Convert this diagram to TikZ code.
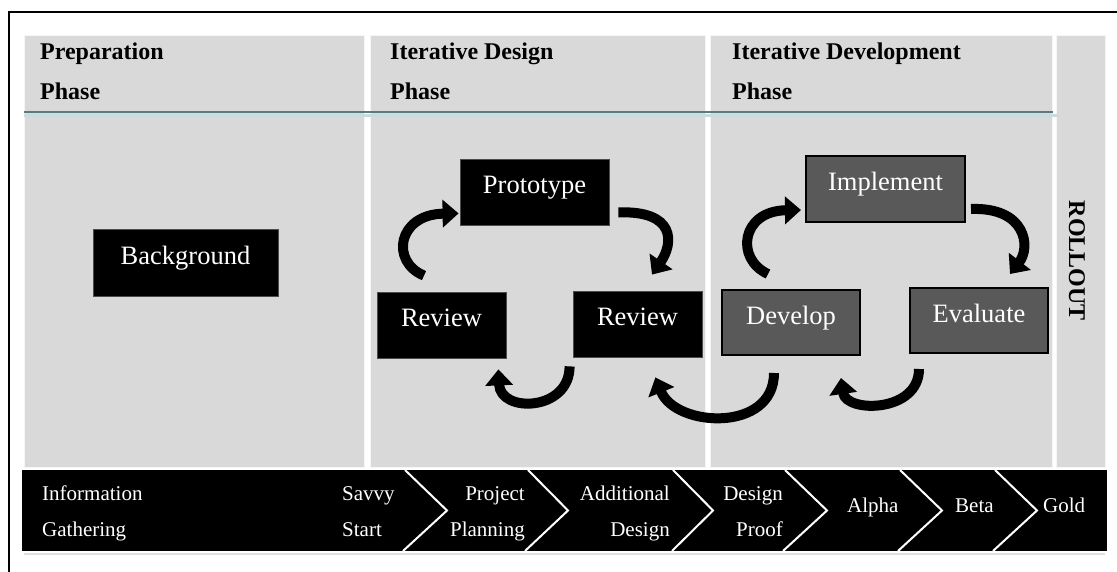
\documentclass[tikz,border=0pt]{standalone}
\usepackage{fontspec}
\setmainfont{Liberation Serif}
\usetikzlibrary{arrows.meta}
\definecolor{panelgray}{RGB}{217,217,217}
\definecolor{boxgray}{RGB}{89,89,89}
\definecolor{headline}{RGB}{96,120,125}
\definecolor{glow}{RGB}{200,220,224}
\tikzset{
  panel/.style={fill=panelgray, draw=white!96!black, line width=0.8pt},
  head/.style={font=\fontsize{24}{28}\selectfont\bfseries, inner sep=0pt},
  blackbox/.style={fill=black, draw=black!70, line width=0.8pt, text=white,
    font=\fontsize{26.5}{30}\selectfont, text height=0.65em, text depth=0.28em, inner sep=0pt},
  graybox/.style={fill=boxgray, draw=black, line width=2pt, text=white,
    font=\fontsize{26.5}{30}\selectfont, text height=0.65em, text depth=0.28em, inner sep=0pt},
  bartext/.style={font=\fontsize{21}{25}\selectfont, text=white, inner sep=0pt},
  curvearrow/.style={line width=10pt, -{Triangle[width=27pt,length=16pt]}},
  chev/.style={draw=white, line width=2pt},
}
\begin{document}
\begin{tikzpicture}[x=1pt,y=1pt]
\useasboundingbox (0,0) rectangle (1117,572);
% outer frame
\draw[line width=2pt] (9,0) -- (9,560) -- (1117,560);
% panels
\fill[panel] (24,105) rectangle (364,537);
\fill[panel] (370,105) rectangle (705,537);
\fill[panel] (710,105) rectangle (1052,537);
\fill[panel] (1056,105) rectangle (1105,537);
% header rule
\draw[glow, line width=3pt] (24,456.5) -- (1058,456.5);
\draw[headline, line width=2.5pt] (24,460) -- (1053,460);
% headers
\node[head, anchor=base west] (h1a) at (40,512) {Preparation};
\node[head, anchor=base west] (h1b) at (40,472) {Phase};
\node[head, anchor=base west] (h2a) at (390,512) {Iterative Design};
\node[head, anchor=base west] (h2b) at (390,472) {Phase};
\node[head, anchor=base west] (h3a) at (732,512) {Iterative Development};
\node[head, anchor=base west] (h3b) at (732,472) {Phase};
\node[head, rotate=-90] (roll) at (1077,311) {ROLLOUT};
% boxes
\node[blackbox, minimum width=185pt, minimum height=67pt] (bg) at (185.5,309.5) {Background};
\node[blackbox, minimum width=149pt, minimum height=66pt] (proto) at (534.5,380) {Prototype};
\node[blackbox, minimum width=129pt, minimum height=66pt] (revL) at (441.5,247) {Review};
\node[blackbox, minimum width=129pt, minimum height=66pt] (revR) at (637.5,248) {Review};
\node[graybox, minimum width=159pt, minimum height=66pt] (impl) at (885.5,383) {Implement};
\node[graybox, minimum width=138pt, minimum height=65pt] (dev) at (791,249.5) {Develop};
\node[graybox, minimum width=138pt, minimum height=65pt] (eval) at (979,251.5) {Evaluate};
% arrow end points
\coordinate (a1s) at ([shift={(-17.5,16)}]revL.north);
\coordinate (a1e) at ([shift={(-1,12)}]proto.south west);
\coordinate (a2s) at ([shift={(9,13)}]proto.south east);
\coordinate (a2e) at ([shift={(14.5,16)}]revR.north);
\coordinate (a3s) at ([shift={(-3,-9)}]revR.south west);
\coordinate (a3e) at ([shift={(-8,-11)}]revL.south east);
\coordinate (a4s) at ([shift={(53,-17)}]dev.south west);
\coordinate (a4e) at ([shift={(-47,-20)}]revR.south east);
\coordinate (a5s) at ([shift={(-23,15)}]dev.north);
\coordinate (a5e) at ([shift={(-4,13)}]impl.south west);
\coordinate (a6s) at ([shift={(5,14)}]impl.south east);
\coordinate (a6e) at ([shift={(31,13)}]eval.north);
\coordinate (a7s) at ([shift={(10,-15)}]eval.south west);
\coordinate (a7e) at ([shift={(-20,-22)}]dev.south east);
% curved arrows
\draw[curvearrow] (a1s) .. controls +(-34,14) and +(-61,-1) .. (a1e);
\draw[curvearrow] (a2s) .. controls +(57,2) and +(22,32) .. (a2e);
\draw[curvearrow] (a3s) .. controls +(0,-45) and +(2,-44) .. (a3e);
\draw[curvearrow] (a4s) .. controls +(0,-60) and +(20,-50) .. (a4e);
\draw[curvearrow] (a5s) .. controls +(-33,15) and +(-60,-1) .. (a5e);
\draw[curvearrow] (a6s) .. controls +(55,2) and +(21,27) .. (a6e);
\draw[curvearrow] (a7s) .. controls +(0,-44) and +(5,-35) .. (a7e);
% bottom bar
\draw[black!12, line width=1.5pt] (24,18) -- (1105,18);
\fill[black] (22,21) rectangle (1107,102);
\draw[chev] (405,102) -- (447,61.5) -- (403,21);
\draw[chev] (528,102) -- (568,61.5) -- (525,21);
\draw[chev] (673,102) -- (713,61.5) -- (672,21);
\draw[chev] (785,102) -- (827,61.5) -- (783,21);
\draw[chev] (900,102) -- (942,61.5) -- (898,21);
\draw[chev] (995,102) -- (1037,61.5) -- (993,21);
\node[bartext, anchor=base west] (t1a) at (42,71) {Information};
\node[bartext, anchor=base west] (t1b) at (42,35) {Gathering};
\node[bartext, anchor=base west] (t2a) at (342,71) {Savvy};
\node[bartext, anchor=base west] (t2b) at (342,35) {Start};
\node[bartext, anchor=base east] (t3a) at (525,71) {Project};
\node[bartext, anchor=base east] (t3b) at (525,35) {Planning};
\node[bartext, anchor=base east] (t4a) at (670,71) {Additional};
\node[bartext, anchor=base east] (t4b) at (670,35) {Design};
\node[bartext, anchor=base east] (t5a) at (783,71) {Design};
\node[bartext, anchor=base east] (t5b) at (783,35) {Proof};
\node[bartext, anchor=base west] (t6) at (847,59.3) {Alpha};
\node[bartext, anchor=base west] (t7) at (955,59.3) {Beta};
\node[bartext, anchor=base west] (t8) at (1043,59.3) {Gold};
\end{tikzpicture}
\end{document}
